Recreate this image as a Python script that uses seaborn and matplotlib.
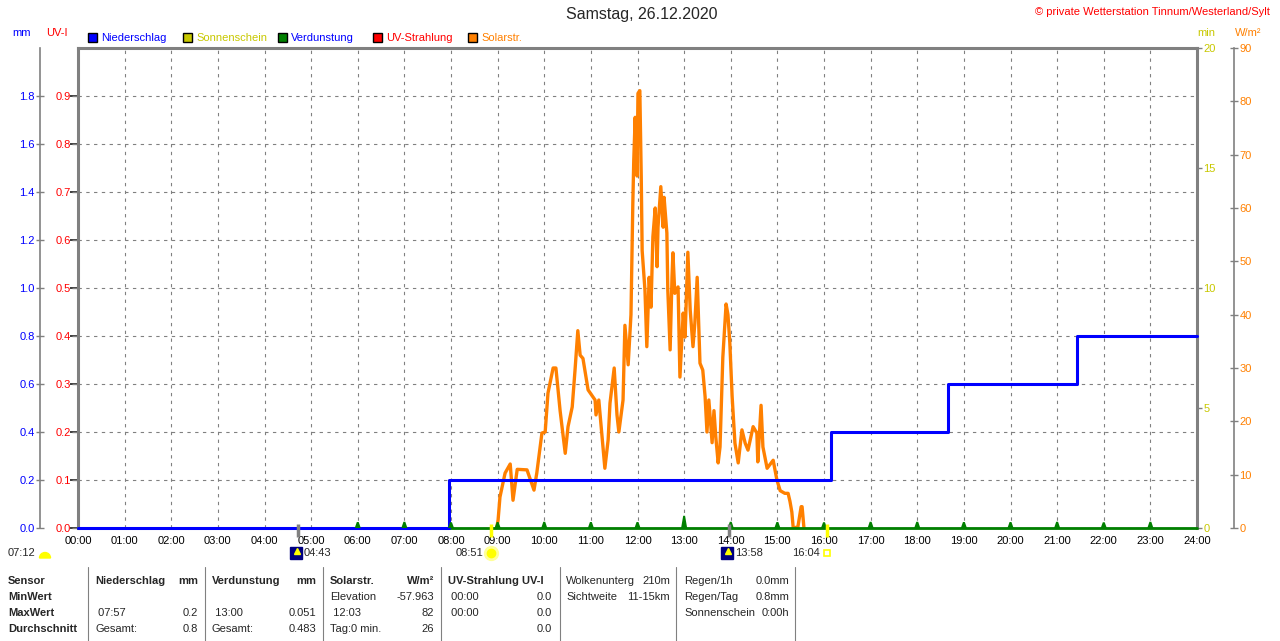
import numpy as np
import pandas as pd
import seaborn as sns
import matplotlib.pyplot as plt
from matplotlib.patches import Rectangle, Wedge

# Daten
solar_h = [8.98, 9.01, 9.05, 9.16, 9.27, 9.33, 9.42, 9.63, 9.78, 9.84, 9.95, 10.02, 10.08,
           10.19, 10.25, 10.34, 10.45, 10.51, 10.60, 10.66, 10.72, 10.77, 10.83, 10.94,
           11.09, 11.11, 11.17, 11.30, 11.37, 11.41, 11.50, 11.56, 11.60, 11.69, 11.73,
           11.80, 11.86, 11.90, 11.92, 11.95, 11.99, 12.01, 12.05, 12.08, 12.10, 12.16,
           12.20, 12.25, 12.29, 12.33, 12.38, 12.42, 12.44, 12.50, 12.55, 12.57, 12.63,
           12.65, 12.70, 12.74, 12.76, 12.80, 12.87, 12.91, 12.98, 13.02, 13.08, 13.13,
           13.19, 13.23, 13.28, 13.34, 13.40, 13.45, 13.49, 13.53, 13.60, 13.64, 13.68,
           13.73, 13.77, 13.83, 13.90, 13.94, 13.98, 14.03, 14.09, 14.16, 14.24, 14.31,
           14.37, 14.48, 14.56, 14.58, 14.65, 14.69, 14.78, 14.91, 14.99, 15.06, 15.16,
           15.23, 15.27, 15.31, 15.34, 15.44, 15.51, 15.53, 15.57]
solar_w = [0, 1.5, 5.8, 10.3, 12, 5.2, 11, 10.9, 7.1, 10.3, 17.8, 18, 25.3,
           30, 30, 22, 14, 19, 22.7, 29.6, 37, 32.4, 31.8, 25.9,
           24, 21.2, 24, 11.2, 16.5, 23.4, 30, 21.2, 18, 24, 38,
           30.6, 40, 61, 69, 77, 66, 81.5, 82, 66, 52, 44.6,
           34, 47, 41.4, 54.6, 60, 49, 56.4, 64, 56.4, 62, 55.3,
           44.6, 33.4, 47, 51.6, 44, 45.2, 28.3, 40.3, 35.8, 51.7, 40.9,
           34, 38.4, 47, 30.9, 29.6, 24.6, 18, 24, 16, 22, 17,
           12.2, 15.2, 32, 42, 40, 34.7, 24.6, 15.9, 12.2, 18.4, 15.9,
           14.6, 19, 17.8, 12.4, 23, 15.2, 11.2, 12.7, 9, 7, 6.5,
           6.5, 5, 3, 0, 0.2, 4, 4, 0]

regen_h = [0.0, 7.95, 16.15, 18.66, 21.42, 24.0]
regen_mm = [0.0, 0.2, 0.4, 0.6, 0.8, 0.8]

verdunst_h = list(range(6, 24))
verdunst_mm = [0.025, 0.026, 0.024, 0.025, 0.026, 0.025, 0.025, 0.051, 0.026,
               0.025, 0.024, 0.026, 0.026, 0.025, 0.025, 0.026, 0.024, 0.026]

sonne_h = [8.85, 16.067]
sonne_txt = ['08:51', '16:04']
mond_h = [4.717, 13.967]
mond_txt = ['04:43', '13:58']

stunden = [f'{h:02d}:00' for h in range(25)]
mm_ticks = [0.0, 0.2, 0.4, 0.6, 0.8, 1.0, 1.2, 1.4, 1.6, 1.8]
uv_ticks = [0.0, 0.1, 0.2, 0.3, 0.4, 0.5, 0.6, 0.7, 0.8, 0.9]
min_ticks = [0, 5, 10, 15, 20]
w_ticks = [0, 10, 20, 30, 40, 50, 60, 70, 80, 90]

sensor_zeilen = ['Sensor', 'MinWert', 'MaxWert', 'Durchschnitt']
niederschlag = [('Niederschlag', 'mm'), ('', ''), (' 07:57', '0.2'), ('Gesamt:', '0.8')]
verdunstung = [('Verdunstung', 'mm'), ('', ''), (' 13:00', '0.051'), ('Gesamt:', '0.483')]
solarstr = [('Solarstr.', 'W/m²'), ('Elevation', '-57.963'), (' 12:03', '82'), ('Tag:0 min.', '26')]
uvstr = [('UV-Strahlung UV-I', ''), (' 00:00', '0.0'), (' 00:00', '0.0'), ('', '0.0')]
wolken = [('Wolkenunterg', '210m'), ('Sichtweite', '11-15km')]
regen_info = [('Regen/1h', '0.0mm'), ('Regen/Tag', '0.8mm'), ('Sonnenschein', '0:00h')]

GRAU = '#808080'
BLAU = '#0000FF'
GELB = '#C8C800'
GRUEN = '#008000'
ROT = '#FF0000'
ORANGE = '#FF8000'

sns.set_theme(style="white")
plt.rcParams['font.family'] = ['Liberation Sans', 'DejaVu Sans']
plt.rcParams['font.size'] = 8

W, H = 1280, 641
L, R, T, B = 78, 1197, 48, 528
fig = plt.figure(figsize=(W / 100, H / 100), dpi=100)
ax = fig.add_axes([L / W, 1 - B / H, (R - L) / W, (B - T) / H])
ax.set_xlim(0, 24)
ax.set_ylim(0, 2.0)
ax.set_xticks(range(25))
ax.set_xticklabels(stunden)
ax.set_yticks(mm_ticks)
ax.tick_params(axis='x', length=0, pad=6, labelsize=8, labelcolor='black')
ax.tick_params(axis='y', left=False, labelleft=False, right=False, labelright=False)
ax.grid(True, color=GRAU, linestyle=(0, (3, 4)), linewidth=0.8)
for s in ['left', 'top', 'right']:
    ax.spines[s].set_color(GRAU)
    ax.spines[s].set_linewidth(2.2)
ax.spines['bottom'].set_color(GRAU)
ax.spines['bottom'].set_linewidth(1)


def twin():
    t = ax.twinx()
    for s in t.spines.values():
        s.set_visible(False)
    return t


# UV-I links (rot)
ax_uv = twin()
ax_uv.set_ylim(0, 1.0)
ax_uv.yaxis.tick_left()
ax_uv.set_yticks(uv_ticks)
ax_uv.set_yticklabels([f'{v:.1f}' for v in uv_ticks])
ax_uv.tick_params(axis='y', direction='out', length=4.3, width=1, color=GRAU,
                  labelcolor=ROT, pad=1, labelsize=8)

# min rechts (gelb)
ax_min = twin()
ax_min.set_ylim(0, 20)
ax_min.set_yticks(min_ticks)
ax_min.tick_params(axis='y', direction='out', length=3.6, width=1, color=GRAU,
                   labelcolor=GELB, pad=1, labelsize=8)

# W/m2 rechts aussen (orange)
ax_w = twin()
ax_w.spines['right'].set_visible(True)
ax_w.spines['right'].set_position(('axes', (1234 - L) / (R - L)))
ax_w.spines['right'].set_color(GRAU)
ax_w.spines['right'].set_linewidth(1.2)
ax_w.set_ylim(0, 90)
ax_w.set_yticks(w_ticks)
ax_w.tick_params(axis='y', direction='inout', length=5.8, width=1, color=GRAU,
                 labelcolor=ORANGE, pad=1, labelsize=8)
sns.lineplot(x=solar_h, y=solar_w, ax=ax_w, color=ORANGE, linewidth=2.4,
             estimator=None, sort=False)
ax_w.set_ylim(0, 90)
ax_w.set_ylabel('')

# mm links aussen (blau)
ax_mm = twin()
ax_mm.yaxis.tick_left()
ax_mm.spines['left'].set_visible(True)
ax_mm.spines['left'].set_position(('axes', (40 - L) / (R - L)))
ax_mm.spines['left'].set_color(GRAU)
ax_mm.spines['left'].set_linewidth(1.2)
ax_mm.set_ylim(0, 2.0)
ax_mm.set_yticks(mm_ticks)
ax_mm.set_yticklabels([f'{v:.1f}' for v in mm_ticks])
ax_mm.tick_params(axis='y', direction='inout', length=5.8, width=1, color=GRAU,
                  labelcolor=BLAU, pad=1, labelsize=8)

ax_mm.axhline(0, color=GRUEN, linewidth=2, clip_on=False, zorder=2)
for h, v in zip(verdunst_h, verdunst_mm):
    ax_mm.fill([h - 0.065, h - 0.02, h + 0.02, h + 0.065], [0, v, v, 0],
               color=GRUEN, linewidth=0, zorder=3)
sns.lineplot(x=regen_h, y=regen_mm, ax=ax_mm, color=BLAU, linewidth=2.2,
             drawstyle='steps-post', estimator=None, sort=False)
for ln in ax_mm.lines:
    ln.set_clip_on(False)
ax_mm.set_ylim(0, 2.0)
ax_mm.set_ylabel('')

# Sonnen-/Mond-Marken an der Achse
ax_mm.vlines(mond_h, -0.0375, 0.0167, color=GRAU, linewidth=2.5, clip_on=False, zorder=4)
ax_mm.vlines(sonne_h, -0.0375, 0.0167, color='#FFFF00', linewidth=2.5, clip_on=False, zorder=4)

tr = ax.get_xaxis_transform()
yy = (B - 553) / (B - T)
for h, t in zip(mond_h, mond_txt):
    ax.plot(h - 0.04, yy, marker='s', ms=8, mfc='#000080', mec='#000080',
            transform=tr, clip_on=False)
    ax.plot(h - 0.02, yy + 0.004, marker='^', ms=4, color='#FFFF00',
            transform=tr, clip_on=False)
    ax.annotate(t, xy=(h, yy), xycoords=tr, xytext=(4, 0), textcoords='offset points',
                ha='left', va='center', fontsize=8, annotation_clip=False)
for i, (h, t) in enumerate(zip(sonne_h, sonne_txt)):
    if i == 0:
        ax.plot(h, yy, marker='o', ms=10, color='#FFFF99', transform=tr, clip_on=False)
        ax.plot(h, yy, marker='o', ms=6, color='#FFFF00', transform=tr, clip_on=False)
    else:
        ax.plot(h, yy, marker='s', ms=5, mfc='white', mec='#FFFF00', mew=1.2,
                transform=tr, clip_on=False)
    ax.annotate(t, xy=(h, yy), xycoords=tr, xytext=(-5, 0), textcoords='offset points',
                ha='right', va='center', fontsize=8, annotation_clip=False)

ax.set_xlim(0, 24)

# Overlay fuer Texte, Legende, Tabelle (Pixelkoordinaten)
ov = fig.add_axes([0, 0, 1, 1])
ov.set_xlim(0, W)
ov.set_ylim(H, 0)
ov.axis('off')
ov.patch.set_alpha(0)

ov.text(642, 15, 'Samstag, 26.12.2020', ha='center', va='center', fontsize=11.5)
ov.text(1270, 12, '© private Wetterstation Tinnum/Westerland/Sylt', ha='right',
        va='center', fontsize=8, color=ROT)

ov.text(22, 33, 'mm', ha='center', va='center', color=BLAU, fontsize=8)
ov.text(57, 33, 'UV-I', ha='center', va='center', color=ROT, fontsize=8)
ov.text(1206, 33, 'min', ha='center', va='center', color=GELB, fontsize=8)
ov.text(1248, 33, 'W/m²', ha='center', va='center', color=ORANGE, fontsize=8)

legende = [('Niederschlag', 88, BLAU, BLAU), ('Sonnenschein', 183, GELB, GELB),
           ('Verdunstung', 278, GRUEN, BLAU), ('UV-Strahlung', 373, ROT, ROT),
           ('Solarstr.', 468, ORANGE, ORANGE)]
for name, x, fc, tc in legende:
    ov.add_patch(Rectangle((x, 33), 9, 9, facecolor=fc, edgecolor='black', linewidth=1))
    ov.text(x + 13, 38, name, ha='left', va='center', color=tc, fontsize=8)

# 07:12 mit halber Sonne
ov.text(8, 553, '07:12', ha='left', va='center', fontsize=8)
ov.add_patch(Wedge((45, 558), 5.5, 180, 360, color='#FFFF00'))

# Tabelle
zeilen_y = [581, 597, 613, 629]
for s_x in [88, 205, 323, 441, 560, 676, 795]:
    ov.plot([s_x, s_x], [567, 641], color=GRAU, linewidth=0.8)
for y, t in zip(zeilen_y, sensor_zeilen):
    ov.text(8, y, t, ha='left', va='center', fontsize=8, fontweight='bold')

spalten = [(niederschlag, 95, 198), (verdunstung, 212, 316),
           (solarstr, 330, 434), (uvstr, 448, 552)]
for daten, xl, xr in spalten:
    for i, ((links, rechts), y) in enumerate(zip(daten, zeilen_y)):
        fw = 'bold' if i == 0 else 'normal'
        ov.text(xl, y, links, ha='left', va='center', fontsize=8, fontweight=fw)
        ov.text(xr, y, rechts, ha='right', va='center', fontsize=8, fontweight=fw)

for daten, xl, xr in [(wolken, 566, 670), (regen_info, 684, 789)]:
    for (links, rechts), y in zip(daten, zeilen_y):
        ov.text(xl, y, links, ha='left', va='center', fontsize=8)
        ov.text(xr, y, rechts, ha='right', va='center', fontsize=8)

fig.savefig('out.png', dpi=100)
